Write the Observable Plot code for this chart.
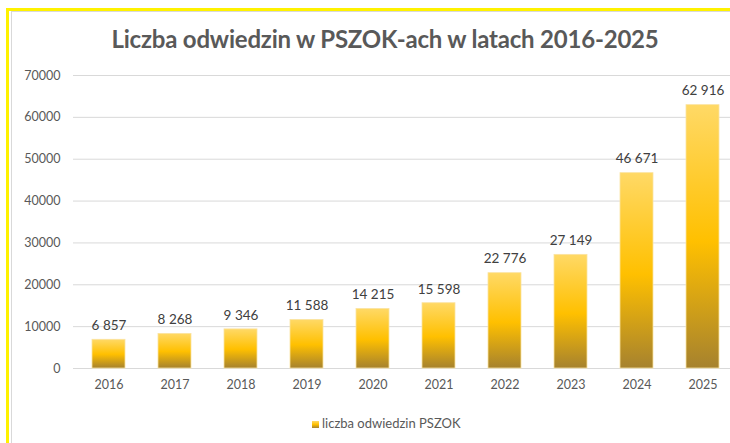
<!DOCTYPE html>
<html>
<head>
<meta charset="utf-8">
<script src="https://cdn.jsdelivr.net/npm/d3@7"></script>
<script src="https://cdn.jsdelivr.net/npm/@observablehq/plot@0.6"></script>
<style>
  html, body { margin: 0; padding: 0; background: #fff; overflow: hidden; }
  #frame { position: relative; width: 730px; height: 443px; overflow: hidden; font-family: Lato, "Open Sans", sans-serif; }
  #yb-top { position: absolute; left: 6px; top: 8px; width: 730px; height: 3px; background: #FFF200; }
  #yb-left { position: absolute; left: 6px; top: 8px; width: 3px; height: 440px; background: #FFF200; }
  #g-top { position: absolute; left: 11px; top: 11px; width: 730px; height: 1px; background: #d9d9d9; }
  #g-left { position: absolute; left: 11px; top: 11px; width: 1px; height: 440px; background: #d9d9d9; }
  #title { position: absolute; left: 0; width: 770px; top: 24px; text-align: center; font-size: 24px; font-weight: bold; color: #595959; letter-spacing: -0.2px; }
  #chart { position: absolute; left: 0; top: 0; width: 740px; }
  #chart svg { max-width: none !important; }
  #legend { position: absolute; left: 312px; top: 415px; font-size: 13px; color: #595959; white-space: nowrap; }
  #legend .sw { display: inline-block; width: 7px; height: 7px; margin-right: 3px; vertical-align: 0px; background: linear-gradient(#FFD966, #FFC000, #A6822E); }
</style>
</head>
<body>
<div id="frame">
  <div id="yb-top"></div><div id="yb-left"></div><div id="g-top"></div><div id="g-left"></div>
  <div id="chart"></div>
  <div id="title">Liczba odwiedzin w PSZOK-ach w latach 2016-2025</div>
  <div id="legend"><span class="sw"></span>liczba odwiedzin PSZOK</div>
</div>
<script>
const years = ["2016","2017","2018","2019","2020","2021","2022","2023","2024","2025"];
const visits = [6857, 8268, 9346, 11588, 14215, 15598, 22776, 27149, 46671, 62916];
const yTicks = [0, 10000, 20000, 30000, 40000, 50000, 60000, 70000];

const data = years.map((y, i) => ({year: y, value: visits[i]}));
const fmt = v => d3.format(",")(v).replace(/,/g, " ");

const chart = Plot.plot({
  width: 740,
  height: 443,
  marginLeft: 73,
  marginRight: 2,
  marginTop: 75,
  marginBottom: 75,
  style: {fontFamily: "Lato, 'Open Sans', sans-serif", background: "transparent", overflow: "visible", maxWidth: "none"},
  x: {domain: years, paddingInner: 0.5, paddingOuter: 0.25, label: null},
  y: {domain: [0, 70000], ticks: yTicks, label: null},
  marks: [
    Plot.gridY(yTicks, {stroke: "#d9d9d9", strokeOpacity: 1, strokeWidth: 1}),
    Plot.axisY(yTicks, {tickSize: 0, tickPadding: 13, fontSize: 12.5, fill: "#595959", tickFormat: d => String(d)}),
    Plot.axisX({tickSize: 0, tickPadding: 12, fontSize: 12.5, fill: "#595959"}),
    Plot.barY(data, {x: "year", y: "value", fill: "url(#barGrad)", stroke: "#FBE3A0", strokeWidth: 0.8}),
    Plot.text(data, {x: "year", y: "value", text: d => fmt(d.value), dy: -14, fontSize: 13.5, fill: "#404040"})
  ]
});

const svg = d3.select(chart);
const defs = svg.insert("defs", ":first-child");
const g = defs.append("linearGradient").attr("id", "barGrad").attr("x1", 0).attr("y1", 0).attr("x2", 0).attr("y2", 1);
g.append("stop").attr("offset", "0%").attr("stop-color", "#FFD966");
g.append("stop").attr("offset", "52%").attr("stop-color", "#FFC000");
g.append("stop").attr("offset", "100%").attr("stop-color", "#A6822E");

document.getElementById("chart").appendChild(chart);
</script>
</body>
</html>
